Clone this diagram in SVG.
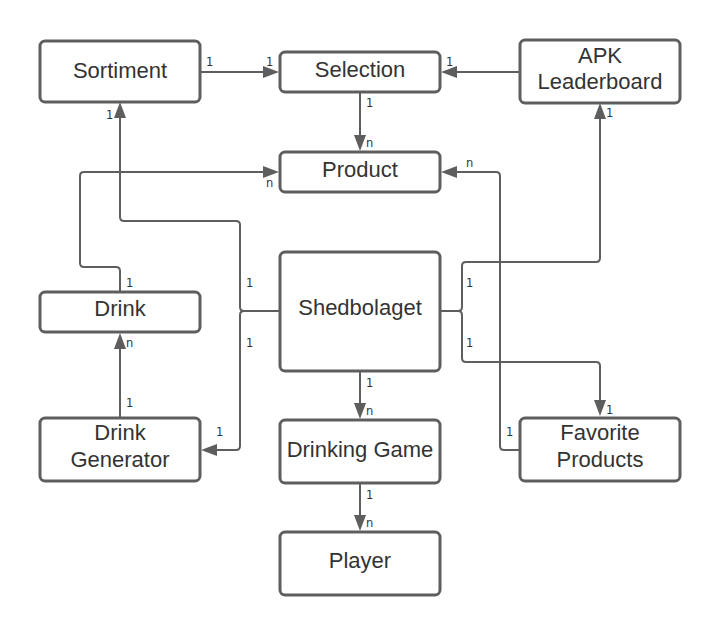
<svg xmlns="http://www.w3.org/2000/svg" width="720" height="635" viewBox="0 0 720 635">
<style>
.box{fill:#ffffff;stroke:#5e5e5e;stroke-width:3}
.t{font-family:"Liberation Sans",Arial,sans-serif;font-size:22px;fill:#333333;text-anchor:middle}
.c{fill:none;stroke:#5e5e5e;stroke-width:2}
.l{font-family:"DejaVu Sans",sans-serif;font-size:11.5px;fill:#333333}
</style>
<defs>
<marker id="ah" markerUnits="userSpaceOnUse" viewBox="0 0 16 12" markerWidth="16" markerHeight="12" refX="12" refY="6" orient="auto">
<path d="M0,0 L16,6 L0,12 Z" fill="#5e5e5e"/>
</marker>
</defs>
<rect width="720" height="635" fill="#ffffff"/>
<g id="connectors">
<path class="c" d="M200 72 H275" marker-end="url(#ah)"/>
<path class="c" d="M520 72 H445" marker-end="url(#ah)"/>
<path class="c" d="M360 92 V147" marker-end="url(#ah)"/>
<path class="c" d="M120 292 V271 Q120 267 116 267 H84 Q80 267 80 263 V176 Q80 172 84 172 H275" marker-end="url(#ah)"/>
<path class="c" d="M520 450 H504 Q500 450 500 446 V176 Q500 172 496 172 H445" marker-end="url(#ah)"/>
<path class="c" d="M280 311 H244 Q240 311 240 307 V225 Q240 221 236 221 H124 Q120 221 120 217 V106" marker-end="url(#ah)"/>
<path class="c" d="M244 311 Q240 311 240 315 V446 Q240 450 236 450 H205" marker-end="url(#ah)"/>
<path class="c" d="M440 311 H458 Q462 311 462 307 V266 Q462 262 466 262 H596 Q600 262 600 258 V107" marker-end="url(#ah)"/>
<path class="c" d="M458 311 Q462 311 462 315 V358 Q462 362 466 362 H596 Q600 362 600 366 V412" marker-end="url(#ah)"/>
<path class="c" d="M120 418 V337" marker-end="url(#ah)"/>
<path class="c" d="M360 371 V415" marker-end="url(#ah)"/>
<path class="c" d="M360 483 V527" marker-end="url(#ah)"/>
<text class="l" x="206" y="66">1</text>
<text class="l" x="266" y="66">1</text>
<text class="l" x="446" y="66">1</text>
<text class="l" x="366" y="107">1</text>
<text class="l" x="366" y="147">n</text>
<text class="l" x="466" y="167">n</text>
<text class="l" x="266" y="187">n</text>
<text class="l" x="606" y="117">1</text>
<text class="l" x="106" y="119">1</text>
<text class="l" x="126" y="287">1</text>
<text class="l" x="246" y="287">1</text>
<text class="l" x="246" y="347">1</text>
<text class="l" x="466" y="287">1</text>
<text class="l" x="466" y="347">1</text>
<text class="l" x="606" y="414">1</text>
<text class="l" x="506" y="436">1</text>
<text class="l" x="126" y="347">n</text>
<text class="l" x="126" y="407">1</text>
<text class="l" x="216" y="436">1</text>
<text class="l" x="366" y="387">1</text>
<text class="l" x="366" y="415">n</text>
<text class="l" x="366" y="499">1</text>
<text class="l" x="366" y="527">n</text>
</g>
<g id="sortiment"><rect class="box" x="40" y="41" width="160" height="61" rx="5"/><text class="t" x="120" y="78">Sortiment</text></g>
<g id="selection"><rect class="box" x="280" y="52" width="160" height="40" rx="5"/><text class="t" x="360" y="77">Selection</text></g>
<g id="apk-leaderboard"><rect class="box" x="520" y="40" width="160" height="63" rx="5"/><text class="t" x="600" y="63">APK</text><text class="t" x="600" y="89">Leaderboard</text></g>
<g id="product"><rect class="box" x="280" y="152" width="160" height="40" rx="5"/><text class="t" x="360" y="177">Product</text></g>
<g id="drink"><rect class="box" x="40" y="292" width="160" height="40" rx="5"/><text class="t" x="120" y="316">Drink</text></g>
<g id="shedbolaget"><rect class="box" x="280" y="252" width="160" height="119" rx="5"/><text class="t" x="360" y="315">Shedbolaget</text></g>
<g id="drink-generator"><rect class="box" x="40" y="418" width="160" height="63" rx="5"/><text class="t" x="120" y="440">Drink</text><text class="t" x="120" y="467">Generator</text></g>
<g id="drinking-game"><rect class="box" x="280" y="420" width="160" height="63" rx="5"/><text class="t" x="360" y="457">Drinking Game</text></g>
<g id="player"><rect class="box" x="280" y="532" width="160" height="63" rx="5"/><text class="t" x="360" y="568">Player</text></g>
<g id="favorite-products"><rect class="box" x="520" y="418" width="160" height="63" rx="5"/><text class="t" x="600" y="440">Favorite</text><text class="t" x="600" y="467">Products</text></g>
</svg>
